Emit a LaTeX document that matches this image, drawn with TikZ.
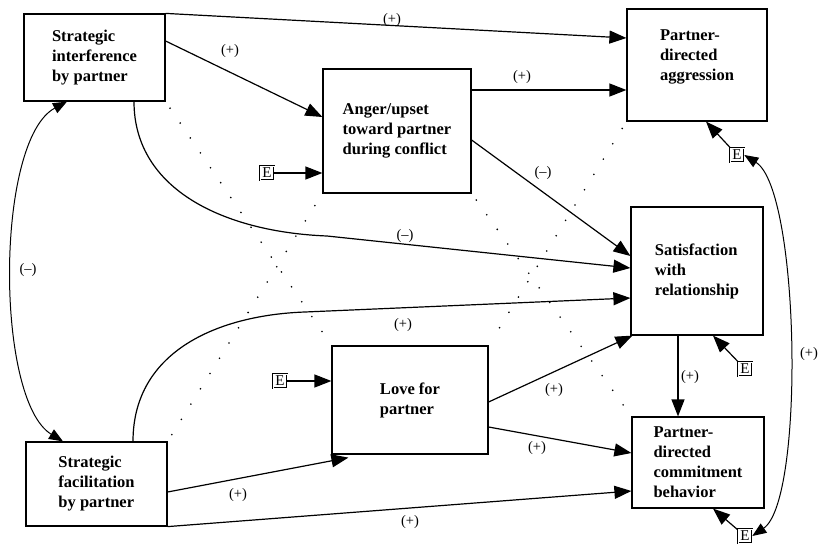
\documentclass[tikz,border=0pt]{standalone}
\usepackage{fontspec}
\setmainfont{Liberation Serif}
\usetikzlibrary{arrows.meta}

\begin{document}
\begin{tikzpicture}[x=1pt,y=-1pt,
  box/.style={draw, line width=1.2pt, inner sep=0pt, align=left,
    font=\bfseries\fontsize{16.5}{20}\selectfont},
  ebox/.style={draw, double, double distance=0.8pt, line width=0.6pt,
    inner sep=0pt, minimum size=14pt, font=\fontsize{15}{15}\selectfont},
  link/.style={line width=1.2pt, -{Triangle[length=17pt,width=13pt]}},
  corr/.style={line width=1pt,
    {Triangle[length=14pt,width=11pt]}-{Triangle[length=14pt,width=11pt]}},
  dots/.style={line width=1.8pt, line cap=round, dash pattern=on 0pt off 18pt,
    shorten <=8pt, shorten >=8pt},
  sign/.style={font=\fontsize{14.5}{16}\selectfont, inner sep=1pt}]

\useasboundingbox (0,0) rectangle (821,543);

% the seven variables
\node[box, minimum width=141pt, minimum height=87pt] (si) at (94.5,57.5) {Strategic\\interference\\by partner};
\node[box, minimum width=148pt, minimum height=124pt] (anger) at (397,131) {Anger/upset\\toward partner\\during conflict};
\node[box, minimum width=140pt, minimum height=112pt] (pda) at (697,65) {Partner-\\directed\\aggression\hspace*{14pt}\\\mbox{}};
\node[box, minimum width=132pt, minimum height=128pt] (sat) at (697,271) {Satisfaction\\with\\relationship};
\node[box, minimum width=156pt, minimum height=108pt] (love) at (410,400) {Love for\\partner};
\node[box, minimum width=141pt, minimum height=84pt] (sf) at (96.5,484) {Strategic\\facilitation\\by partner};
\node[box, minimum width=132pt, minimum height=91pt] (pdc) at (698,462.5) {Partner-\\directed\\commitment\\behavior};

% error terms
\node[ebox] (ea) at (267,173) {E};
\node[ebox] (el) at (280,381) {E};
\node[ebox] (ep) at (737,155) {E};
\node[ebox] (es) at (745,369) {E};
\node[ebox] (ec) at (745,536) {E};

% paths
\draw[link] (si.north east) -- ([yshift=27pt]pda.west);
\draw[link] ([yshift=16.5pt]si.east) -- ([yshift=14pt]anger.west);
\draw[link] ([yshift=41pt]anger.east) -- ([yshift=-25pt]pda.west);
\draw[link] ([yshift=-9pt]anger.east) -- ([yshift=15pt]sat.west);
\draw[link] ([xshift=39.5pt]si.south) .. controls (134,190) and (225,232) .. (327,236) -- ([yshift=3pt]sat.west);
\draw[link] ([xshift=36.5pt]sf.north) .. controls (133,350) and (220,315) .. (305,312) -- ([yshift=-27pt]sat.west);
\draw[link] ([yshift=-8pt]sf.east) -- ([xshift=17pt,yshift=-3pt]love.south west);
\draw[link] (sf.south east) -- ([yshift=-28.5pt]pdc.west);
\draw[link] ([yshift=-2pt]love.east) -- ([xshift=2pt]sat.south west);
\draw[link] ([yshift=-27pt]love.east) -- ([yshift=9.5pt]pdc.west);
\draw[link] ([xshift=-19pt]sat.south) -- ([xshift=-20pt]pdc.north);

\draw[link] (ea) -- ([yshift=-42pt]anger.west);
\draw[link] (el) -- ([yshift=19pt]love.west);
\draw[link] (ep) -- ([xshift=9pt]pda.south);
\draw[link] (es) -- ([xshift=16pt]sat.south);
\draw[link] (ec) -- ([xshift=15pt]pdc.south);

% correlations
\draw[corr] ([xshift=-27.5pt]si.south) .. controls (-5,140) and (-5,400) .. ([xshift=-33.5pt]sf.north);
\draw[corr] (ep.east) .. controls (800,190) and (805,500) .. (ec.east);

% dotted lines
\draw[dots] (si.south east) -- (love.north west);
\draw[dots] (sf.north east) -- (anger.south west);
\draw[dots] (anger.south east) -- (pdc.north west);
\draw[dots] (pda.south west) -- (love.north east);

% signs
\node[sign] (s1) at (392,20) {(+)};
\node[sign] (s2) at (230,51) {(+)};
\node[sign] (s3) at (522,77) {(+)};
\node[sign] (s4) at (543,173) {(--)};
\node[sign] (s5) at (405,236) {(--)};
\node[sign] (s6) at (403,325) {(+)};
\node[sign] (s7) at (238,495) {(+)};
\node[sign] (s8) at (410,522) {(+)};
\node[sign] (s9) at (554,390) {(+)};
\node[sign] (s10) at (537,448) {(+)};
\node[sign] (s11) at (690,377) {(+)};
\node[sign] (s12) at (28,270) {(--)};
\node[sign] (s13) at (809,354) {(+)};

\end{tikzpicture}
\end{document}
